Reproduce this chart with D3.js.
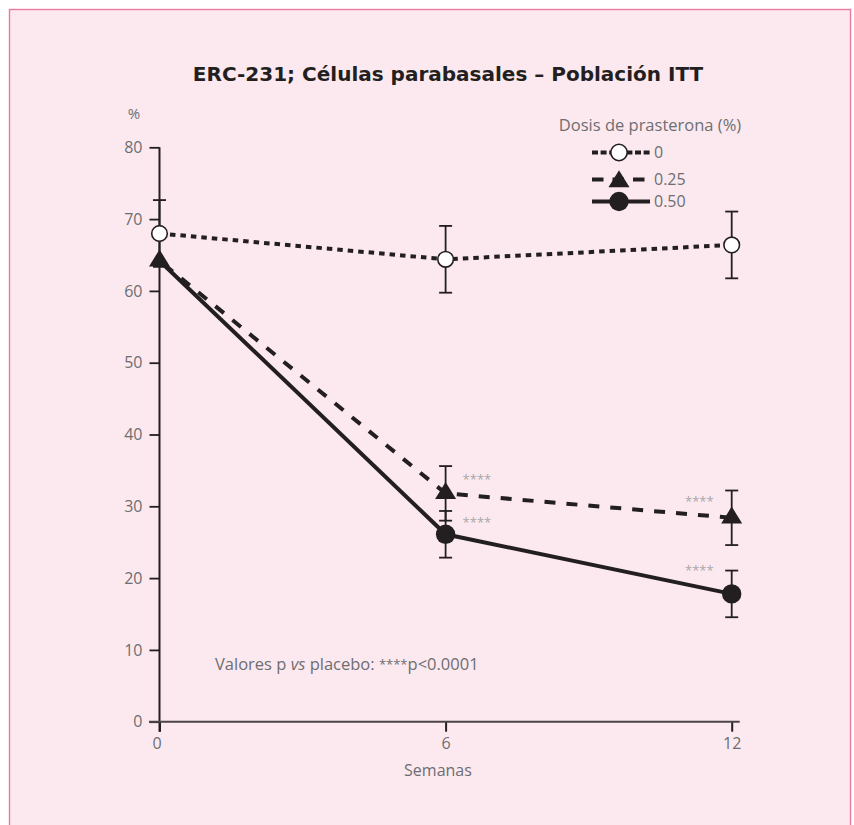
<!DOCTYPE html>
<html>
<head>
<meta charset="utf-8">
<script src="https://cdn.jsdelivr.net/npm/d3@7"></script>
<style>
  html, body { margin: 0; padding: 0; background: #ffffff; }
  svg { display: block; }
</style>
</head>
<body>
<svg id="chart" width="854" height="825"></svg>
<script>
// ---- data ----
const weeks = [0, 6, 12];
const xTicks = [0, 6, 12];
const yTicks = [0, 10, 20, 30, 40, 50, 60, 70, 80];

const doseLabels = ["0", "0.25", "0.50"];
const meanDose0 = [68.0, 64.4, 66.4];
const errDose0 = [4.65, 4.65, 4.65];
const meanDose025 = [64.2, 31.8, 28.4];
const errDose025 = [0, 3.8, 3.8];
const meanDose050 = [64.2, 26.1, 17.8];
const errDose050 = [0, 3.25, 3.25];
// significance markers vs placebo (per week)
const sigDose025 = ["", "****", "****"];
const sigDose050 = ["", "****", "****"];

const titleText = "ERC-231; Células parabasales – Población ITT";
const legendTitle = "Dosis de prasterona (%)";
const xLabel = "Semanas";
const yLabel = "%";

// ---- styles ----
const ink = "#231f20";
const grey = "#6d6e71";
const starGrey = "#a7a7a9";
const bg = "#fce9ef";
const frame = "#e8799f";
const font = "'Open Sans', 'DejaVu Sans', sans-serif";

// vertical offset of the star labels from each point (px, per week)
const sigOffset025 = [0, -9, -12];
const sigOffset050 = [0, -7, -19];

const series = [
  { label: doseLabels[0], mean: meanDose0, err: errDose0, sig: null,
    dash: "5.5,5", legendDash: "6,2.6", marker: "openCircle", showFirst: true },
  { label: doseLabels[1], mean: meanDose025, err: errDose025, sig: sigDose025, sigOff: sigOffset025,
    dash: "11,11", legendDash: "11.5,9", marker: "triangle", showFirst: true },
  { label: doseLabels[2], mean: meanDose050, err: errDose050, sig: sigDose050, sigOff: sigOffset050,
    dash: null, legendDash: null, marker: "dot", showFirst: false }
];

const svg = d3.select("#chart");

// panel
svg.append("rect")
  .attr("x", 9.5).attr("y", 9.5)
  .attr("width", 841).attr("height", 830)
  .attr("fill", bg)
  .attr("stroke", frame).attr("stroke-width", 1.4);

const x = d3.scaleLinear().domain([0, 12]).range([159.5, 731.7]);
const y = d3.scaleLinear().domain([0, 80]).range([721.7, 147.3]);

// title
svg.append("text")
  .attr("x", 448).attr("y", 81)
  .attr("text-anchor", "middle")
  .attr("font-family", "'DejaVu Sans', sans-serif")
  .attr("font-weight", "bold")
  .attr("font-size", 20)
  .attr("fill", ink)
  .text(titleText);

// y axis
const yAxis = d3.axisLeft(y).tickValues(yTicks).tickSize(10).tickPadding(7)
  .tickFormat(d3.format("d"));
const gy = svg.append("g").attr("transform", `translate(${x(0)},0)`).call(yAxis);
gy.select(".domain").remove();
gy.append("line")
  .attr("x1", 0).attr("x2", 0)
  .attr("y1", y(80)).attr("y2", y(0) + 10)
  .attr("stroke", ink).attr("stroke-width", 2);
gy.selectAll(".tick line").attr("stroke", ink).attr("stroke-width", 1.8);
gy.selectAll(".tick text")
  .attr("font-family", font).attr("font-size", 16).attr("fill", grey);

// x axis
const xAxis = d3.axisBottom(x).tickValues(xTicks).tickSize(10).tickPadding(6)
  .tickFormat(d3.format("d"));
const gx = svg.append("g").attr("transform", `translate(0,${y(0)})`).call(xAxis);
gx.select(".domain").remove();
gx.append("line")
  .attr("x1", x(0) - 10.5).attr("x2", x(12) + 8)
  .attr("y1", 0).attr("y2", 0)
  .attr("stroke", "#4a4446").attr("stroke-width", 2);
gx.selectAll(".tick line").attr("stroke", ink).attr("stroke-width", 2);
gx.selectAll(".tick text")
  .attr("font-family", font).attr("font-size", 16).attr("fill", grey)
  .attr("dx", function(d) { return d === 0 ? -3 : 0; });

svg.append("text")
  .attr("x", 438).attr("y", 776)
  .attr("text-anchor", "middle")
  .attr("font-family", font).attr("font-size", 16).attr("fill", grey)
  .text(xLabel);

svg.append("text")
  .attr("x", 134).attr("y", 119)
  .attr("text-anchor", "middle")
  .attr("font-family", font).attr("font-size", 15).attr("fill", grey)
  .text(yLabel);

// marker drawing
function drawMarker(g, type, cx, cy, scale) {
  const s = scale || 1;
  if (type === "openCircle") {
    g.append("circle").attr("cx", cx).attr("cy", cy).attr("r", 7.8 * s)
      .attr("fill", "#ffffff").attr("stroke", ink).attr("stroke-width", 1.6);
  } else if (type === "dot") {
    g.append("circle").attr("cx", cx).attr("cy", cy).attr("r", 9.7 * s)
      .attr("fill", ink);
  } else if (type === "triangle") {
    const top = -11.3 * s, bot = 5.7 * s, hw = 10.5 * s;
    g.append("path")
      .attr("d", `M${cx},${cy + top}L${cx + hw},${cy + bot}L${cx - hw},${cy + bot}Z`)
      .attr("fill", ink);
  }
}

const line = d3.line().x((d, i) => x(weeks[i])).y(d => y(d));

// error bars
const gErr = svg.append("g");
series.forEach(s => {
  s.mean.forEach((m, i) => {
    if (!s.err[i]) return;
    const cx = x(weeks[i]);
    const y1 = y(m + s.err[i]), y2 = y(m - s.err[i]);
    gErr.append("line").attr("x1", cx).attr("x2", cx).attr("y1", y1).attr("y2", y2)
      .attr("stroke", ink).attr("stroke-width", 1.8);
    [y1, y2].forEach(yy => {
      gErr.append("line").attr("x1", cx - 6.5).attr("x2", cx + 6.5)
        .attr("y1", yy).attr("y2", yy)
        .attr("stroke", ink).attr("stroke-width", 1.8);
    });
  });
});

// lines
const gLines = svg.append("g");
series.forEach(s => {
  gLines.append("path")
    .attr("d", line(s.mean))
    .attr("fill", "none")
    .attr("stroke", ink)
    .attr("stroke-width", 4)
    .attr("stroke-dasharray", s.dash)
    .attr("stroke-dashoffset", s.marker === "triangle" ? -6 : 0);
});

// markers
const gMarks = svg.append("g");
series.slice().reverse().forEach(s => {
  s.mean.forEach((m, i) => {
    if (i === 0 && !s.showFirst) return;
    drawMarker(gMarks, s.marker, x(weeks[i]), y(m));
  });
});

// significance stars
const gSig = svg.append("g");
[series[1], series[2]].forEach(s => {
  s.sig.forEach((t, i) => {
    if (!t) return;
    const cx = x(weeks[i]);
    const atEnd = i === weeks.length - 1;
    gSig.append("text")
      .attr("x", atEnd ? cx - 18 : cx + 17)
      .attr("y", y(s.mean[i]) + s.sigOff[i])
      .attr("text-anchor", atEnd ? "end" : "start")
      .attr("font-family", font).attr("font-size", 13).attr("fill", starGrey)
      .text(t);
  });
});

// legend
const lg = svg.append("g");
lg.append("text")
  .attr("x", 650).attr("y", 131)
  .attr("text-anchor", "middle")
  .attr("font-family", font).attr("font-size", 16.5).attr("fill", grey)
  .text(legendTitle);
const legendRows = [152.5, 179.5, 201.5];
series.forEach((s, i) => {
  const ly = legendRows[i];
  lg.append("line")
    .attr("x1", 592).attr("x2", 650).attr("y1", ly).attr("y2", ly)
    .attr("stroke", ink).attr("stroke-width", 4)
    .attr("stroke-dasharray", s.legendDash);
  drawMarker(lg, s.marker, 619, ly + (s.marker === "triangle" ? 2 : 0), s.marker === "openCircle" ? 1.05 : 1);
  lg.append("text")
    .attr("x", 654).attr("y", ly + 5.5)
    .attr("font-family", font).attr("font-size", 16).attr("fill", grey)
    .text(s.label);
});

// p-value note
const note = svg.append("text")
  .attr("x", 215).attr("y", 670)
  .attr("font-family", font).attr("font-size", 16.5).attr("fill", grey);
note.append("tspan").text("Valores p ");
note.append("tspan").attr("font-style", "italic").text("vs");
note.append("tspan").text(" placebo: ");
note.append("tspan").attr("font-size", 13).attr("dy", -1).text("****");
note.append("tspan").attr("dy", 1).text("p<0.0001");
</script>
</body>
</html>
